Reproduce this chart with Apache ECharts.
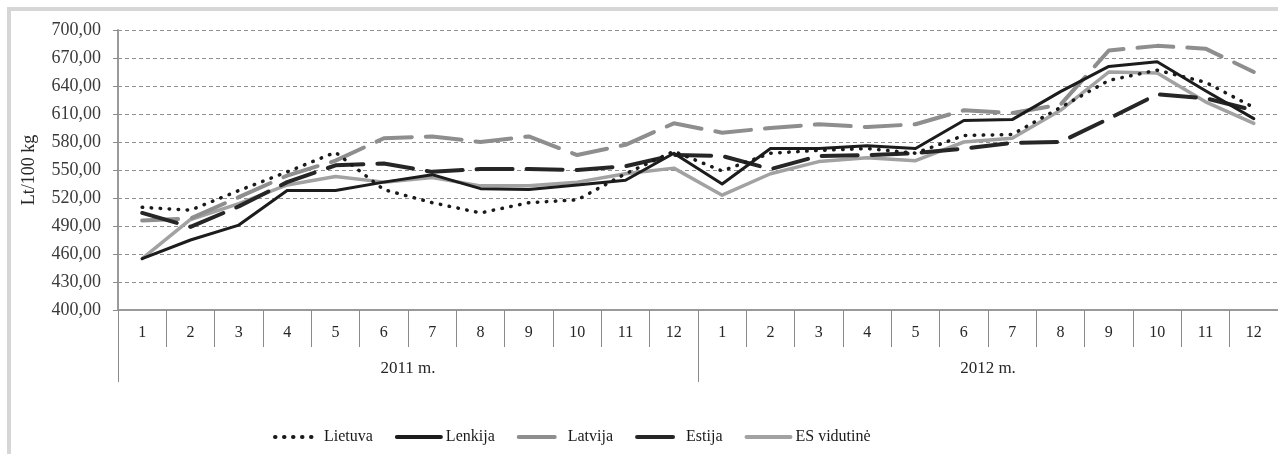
<!DOCTYPE html>
<html>
<head>
<meta charset="utf-8">
<script src="https://cdn.jsdelivr.net/npm/echarts@6/dist/echarts.min.js"></script>
<style>
html,body{margin:0;padding:0;background:#fff;}
#chart{width:1278px;height:454px;}
</style>
</head>
<body>
<div id="chart"></div>
<script>
const months = ['1','2','3','4','5','6','7','8','9','10','11','12','1','2','3','4','5','6','7','8','9','10','11','12'];
const years = ['2011 m.', '2012 m.'];
const seriesNames = ['Lietuva', 'Lenkija', 'Latvija', 'Estija', 'ES vidutinė'];
const lietuva = [510, 507, 528, 548, 569, 529, 515, 504, 515, 518, 546, 570, 549, 568, 571, 573, 568, 587, 588, 617, 646, 657, 644, 617];
const lenkija = [455, 475, 491, 528, 528, 537, 545, 530, 529, 534, 539, 568, 535, 573, 573, 576, 573, 603, 604, 634, 661, 666, 635, 605];
const latvija = [496, 498, 521, 544, 560, 584, 586, 580, 586, 566, 577, 600, 590, 595, 599, 596, 599, 614, 611, 620, 678, 683, 680, 655];
const estija = [504, 489, 511, 537, 555, 557, 548, 551, 551, 550, 554, 566, 565, 551, 565, 566, 568, 573, 579, 580, 605, 631, 627, 614];
const esVidutine = [455, 497, 514, 534, 543, 537, 542, 533, 533, 537, 546, 552, 523, 546, 559, 563, 560, 580, 584, 614, 655, 654, 623, 600];

const serif = '"Liberation Serif", "DejaVu Serif", serif';
const chart = echarts.init(document.getElementById('chart'), null, {renderer: 'canvas'});

function mk(name, data, color, width, type, z) {
  return {
    name: name, type: 'line', data: data, xAxisIndex: 0, yAxisIndex: 0,
    symbol: 'none', smooth: false, z: z, animation: false,
    lineStyle: {color: color, width: width, type: type, cap: 'round', join: 'round'},
    itemStyle: {color: color}
  };
}

chart.setOption({
  animation: false,
  backgroundColor: '#fff',
  graphic: [{
    type: 'rect', z: -10, silent: true,
    shape: {x: 9, y: 9, width: 1320, height: 520},
    style: {fill: 'none', stroke: '#d6d6d6', lineWidth: 4}
  }],
  grid: {left: 118, right: 0, top: 30, bottom: 144, containLabel: false},
  legend: {
    left: 268, top: 424,
    itemWidth: 44, itemHeight: 10, itemGap: 22,
    itemStyle: {opacity: 0},
    lineStyle: {width: 4},
    textStyle: {fontFamily: serif, fontSize: 16, color: '#1a1a1a'},
    data: seriesNames
  },
  xAxis: [{
    type: 'category', data: months, position: 'bottom', boundaryGap: true,
    axisLine: {show: true, lineStyle: {color: '#9a9a9a', width: 2}},
    axisTick: {show: true, interval: 0, length: 37, lineStyle: {color: '#8a8a8a', width: 1}},
    axisLabel: {interval: 0, margin: 15, fontFamily: serif, fontSize: 16, color: '#262626'},
    splitLine: {show: false}
  }, {
    type: 'category', data: years, position: 'bottom', boundaryGap: true,
    axisLine: {show: false},
    axisTick: {show: true, interval: 0, length: 72, lineStyle: {color: '#8a8a8a', width: 1}},
    axisLabel: {interval: 0, margin: 50, fontFamily: serif, fontSize: 17, color: '#262626'},
    splitLine: {show: false}
  }],
  yAxis: {
    type: 'value', min: 400, max: 700, interval: 30,
    name: 'Lt/100 kg', nameLocation: 'middle', nameRotate: 90, nameGap: 80,
    nameTextStyle: {fontFamily: serif, fontSize: 18, color: '#262626'},
    axisLine: {show: true, lineStyle: {color: '#9a9a9a', width: 2}},
    axisTick: {show: true, length: 5, lineStyle: {color: '#8a8a8a'}},
    axisLabel: {
      margin: 17, fontFamily: serif, fontSize: 18, color: '#3a3a3a',
      formatter: function (v) { return v.toFixed(2).replace('.', ','); }
    },
    splitLine: {show: true, lineStyle: {color: '#8f8f8f', width: 1, type: [4, 3]}}
  },
  series: [
    mk(seriesNames[0], lietuva, '#1a1a1a', 3.5, [0.5, 8.5], 5),
    mk(seriesNames[1], lenkija, '#1c1c1c', 3, 'solid', 4),
    mk(seriesNames[2], latvija, '#8e8e8e', 4, [36, 14], 3),
    mk(seriesNames[3], estija, '#262626', 4, [36, 14], 3),
    mk(seriesNames[4], esVidutine, '#a2a2a2', 3.5, 'solid', 2)
  ]
});
</script>
</body>
</html>
